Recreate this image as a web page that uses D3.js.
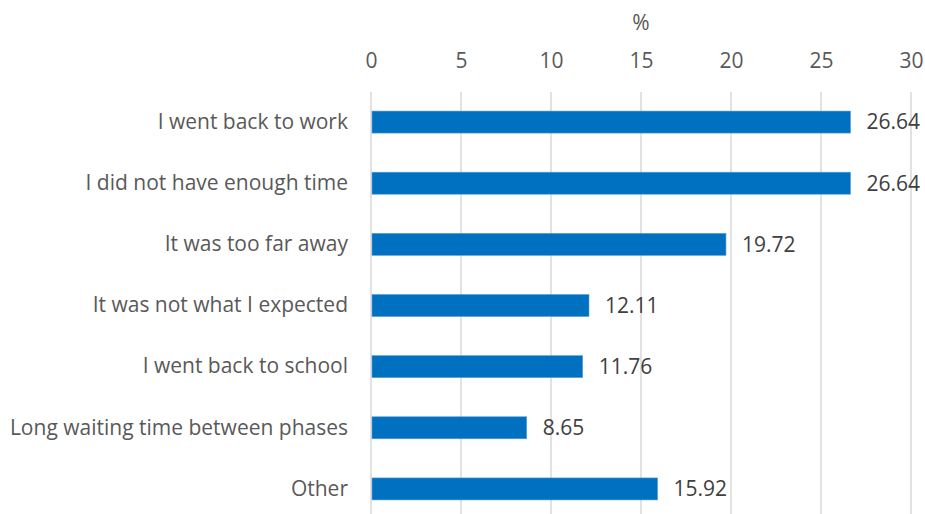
<!DOCTYPE html>
<html>
<head>
<meta charset="utf-8">
<script src="https://cdn.jsdelivr.net/npm/d3@7"></script>
<style>
  html, body { margin: 0; padding: 0; background: #fff; }
  svg { display: block; font-family: "Open Sans", "Liberation Sans", sans-serif; }
</style>
</head>
<body>
<svg id="chart" width="925" height="514"></svg>
<script>
// Reasons for leaving the programme (% of respondents)
const categories = [
  "I went back to work",
  "I did not have enough time",
  "It was too far away",
  "It was not what I expected",
  "I went back to school",
  "Long waiting time between phases",
  "Other"
];
const values = [26.64, 26.64, 19.72, 12.11, 11.76, 8.65, 15.92];
const tickValues = [0, 5, 10, 15, 20, 25, 30];
const axisTitle = "%";

const fontSize = 21;
const fontFamily = "\"Open Sans\", \"Liberation Sans\", sans-serif";

const svg = d3.select("#chart");
const margin = { left: 371, right: 14, top: 92 };

const x = d3.scaleLinear().domain([0, 30]).range([margin.left, 925 - margin.right]);
const y = d3.scaleBand()
  .domain(categories)
  .range([91.5, 519.5])
  .paddingInner(0.64)
  .paddingOuter(0.32);

// Vertical gridlines
svg.append("g")
  .selectAll("line")
  .data(tickValues)
  .join("line")
  .attr("x1", d => x(d)).attr("x2", d => x(d))
  .attr("y1", margin.top).attr("y2", 514)
  .attr("stroke", "#d9d9d9")
  .attr("stroke-width", 1.5);

// Top axis labels
const xAxis = d3.axisTop(x).tickValues(tickValues).tickSize(0).tickPadding(0);
const gx = svg.append("g").attr("transform", "translate(0,68)").call(xAxis);
gx.select(".domain").remove();
gx.selectAll("text")
  .attr("font-size", fontSize)
  .attr("fill", "#595959")
  .attr("font-family", fontFamily);

svg.append("text")
  .attr("x", x(15))
  .attr("y", 30)
  .attr("text-anchor", "middle")
  .attr("font-size", fontSize)
  .attr("fill", "#595959")
  .text(axisTitle);

// Category labels
const yAxis = d3.axisLeft(y).tickSize(0).tickPadding(23);
const gy = svg.append("g").attr("transform", `translate(${margin.left},0)`).call(yAxis);
gy.select(".domain").remove();
gy.selectAll("text")
  .attr("font-size", fontSize)
  .attr("fill", "#595959")
  .attr("font-family", fontFamily);

// Bars
svg.append("g")
  .selectAll("rect")
  .data(values)
  .join("rect")
  .attr("x", x(0) + 1)
  .attr("y", (d, i) => y(categories[i]))
  .attr("width", d => x(d) - x(0) - 1)
  .attr("height", y.bandwidth())
  .attr("fill", "#0070c0")
  .attr("stroke", "#5b9bd5")
  .attr("stroke-width", 0.6);

// Value labels
svg.append("g")
  .selectAll("text")
  .data(values)
  .join("text")
  .attr("x", d => x(d) + 16)
  .attr("y", (d, i) => y(categories[i]) + y.bandwidth() / 2)
  .attr("dy", "0.35em")
  .attr("font-size", fontSize)
  .attr("fill", "#404040")
  .text(d => d.toFixed(2));
</script>
</body>
</html>
